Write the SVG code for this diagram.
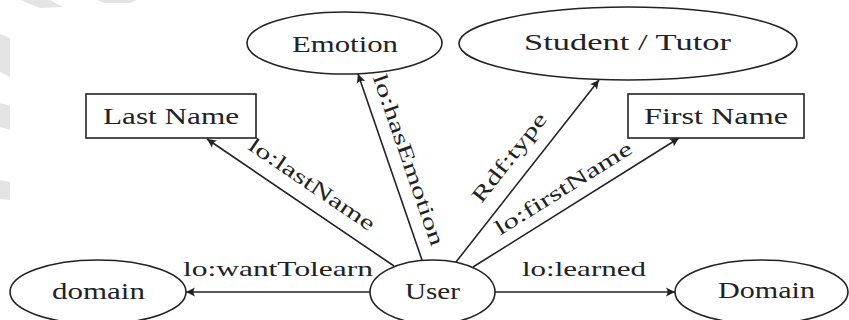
<svg xmlns="http://www.w3.org/2000/svg" width="849" height="320" viewBox="0 0 849 320">
<style>
.node{fill:#fff;stroke:#222;stroke-width:1.6}
.lbl{font-family:"Liberation Serif","Times New Roman",serif;font-size:23px;fill:#222}
.elbl{font-family:"Liberation Serif","Times New Roman",serif;font-size:21px;fill:#222}
text{lengthAdjust:spacingAndGlyphs}
.edge{fill:none;stroke:#222;stroke-width:1.6;marker-end:url(#arr)}
.wm{fill:#e4e4e4}
</style>
<defs>
<marker id="arr" markerUnits="userSpaceOnUse" markerWidth="14" markerHeight="14" refX="10" refY="5" orient="auto" viewBox="0 0 14 10">
<path d="M10,5 L1,0.6 Q4,5 1,9.4 Z" fill="#222"/>
</marker>
</defs>
<rect width="849" height="320" fill="#fff"/>
<g id="watermark">
<path class="wm" d="M20,0 L50,0 L63,7 L40,8 Z"/>
<path class="wm" d="M97,0 L137,0 L130,3 L105,3 Z"/>
<path class="wm" d="M0,34 L10,38 L10,77 L0,72 Z"/>
<path class="wm" d="M0,103 L10,106 L10,130 L0,127 Z"/>
<path class="wm" d="M0,180 L10,182 L10,200 L0,199 Z"/>
</g>
<g id="connectors">
<line class="edge" x1="370" y1="292" x2="186" y2="292"/>
<line class="edge" x1="495" y1="292" x2="675" y2="292"/>
<line class="edge" x1="394" y1="266" x2="207" y2="139"/>
<line class="edge" x1="422" y1="260" x2="358" y2="74"/>
<line class="edge" x1="456" y1="262" x2="599" y2="80"/>
<line class="edge" x1="473" y1="267" x2="679" y2="138"/>
<text class="elbl" x="183" y="276" textLength="190" lengthAdjust="spacingAndGlyphs">lo:wantTolearn</text>
<text class="elbl" x="522" y="276" textLength="124" lengthAdjust="spacingAndGlyphs">lo:learned</text>
<text class="elbl" transform="translate(308,190) rotate(34.2)" x="-74" y="0" textLength="148" lengthAdjust="spacingAndGlyphs">lo:lastName</text>
<text class="elbl" transform="translate(402,162) rotate(70.9)" x="-90" y="0" textLength="180" lengthAdjust="spacingAndGlyphs">lo:hasEmotion</text>
<text class="elbl" transform="translate(514.7,161.7) rotate(-51.8)" x="-54" y="0" textLength="108" lengthAdjust="spacingAndGlyphs">Rdf:type</text>
<text class="elbl" transform="translate(567,194) rotate(-32)" x="-79" y="0" textLength="158" lengthAdjust="spacingAndGlyphs">lo:firstName</text>
</g>
<g id="emotion">
<ellipse class="node" cx="344.5" cy="43" rx="97.5" ry="31"/>
<text class="lbl" x="292" y="52" textLength="106" lengthAdjust="spacingAndGlyphs">Emotion</text>
</g>
<g id="student-tutor">
<ellipse class="node" cx="628" cy="43.5" rx="169" ry="36.5"/>
<text class="lbl" x="524" y="50" textLength="207" lengthAdjust="spacingAndGlyphs">Student / Tutor</text>
</g>
<g id="last-name">
<rect class="node" x="86" y="94" width="170" height="44"/>
<text class="lbl" x="103" y="124" textLength="136" lengthAdjust="spacingAndGlyphs">Last Name</text>
</g>
<g id="first-name">
<rect class="node" x="628" y="94" width="176" height="44"/>
<text class="lbl" x="644" y="124" textLength="144" lengthAdjust="spacingAndGlyphs">First Name</text>
</g>
<g id="domain-left">
<ellipse class="node" cx="98" cy="292" rx="88" ry="32"/>
<text class="lbl" x="52" y="299" textLength="93" lengthAdjust="spacingAndGlyphs">domain</text>
</g>
<g id="user">
<ellipse class="node" cx="432.5" cy="292" rx="62.5" ry="32"/>
<text class="lbl" x="405" y="299" textLength="55" lengthAdjust="spacingAndGlyphs">User</text>
</g>
<g id="domain-right">
<ellipse class="node" cx="761.5" cy="292" rx="86.5" ry="32"/>
<text class="lbl" x="718" y="298" textLength="97" lengthAdjust="spacingAndGlyphs">Domain</text>
</g>
</svg>
